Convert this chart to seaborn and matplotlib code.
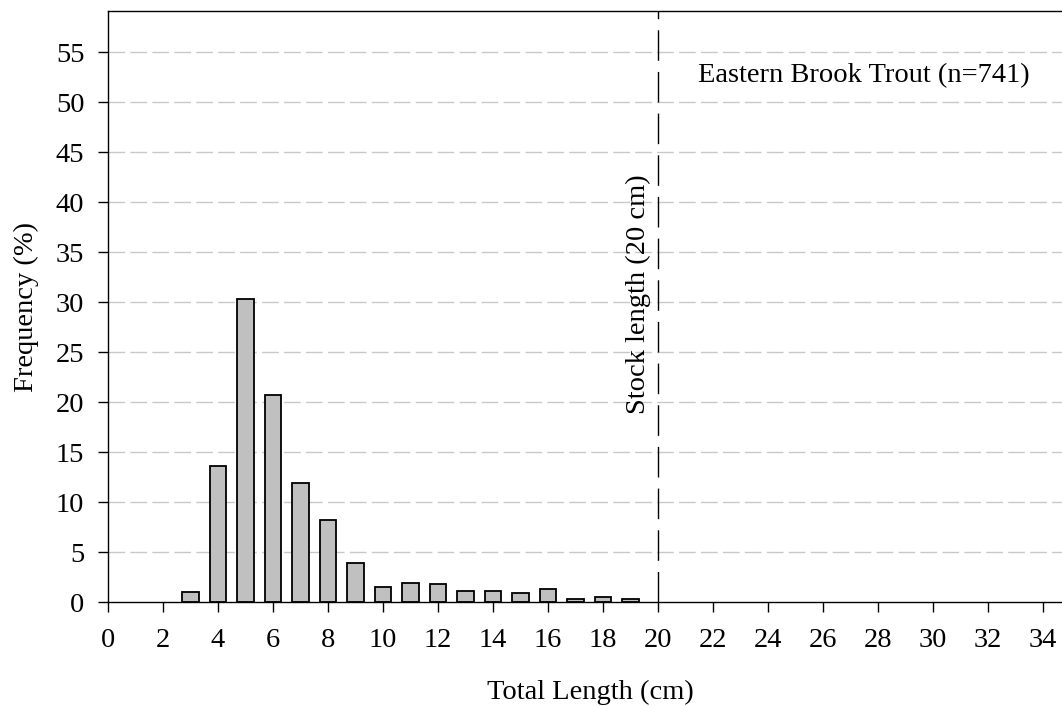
import matplotlib
matplotlib.use("Agg")
import matplotlib.pyplot as plt
import seaborn as sns
import numpy as np

lengths = [3, 4, 5, 6, 7, 8, 9, 10, 11, 12, 13, 14, 15, 16, 17, 18, 19]
freqs = [1.0, 13.6, 30.3, 20.7, 11.9, 8.2, 3.9, 1.55, 1.95, 1.85, 1.15, 1.15, 0.95, 1.35, 0.3, 0.5, 0.3]
xticks = list(range(0, 35, 2))
yticks = list(range(0, 60, 5))
stock_length = 20
title_text = "Eastern Brook Trout (n=741)"
stock_text = "Stock length (20 cm)"

sns.set_theme(style="white")
plt.rcParams['font.family'] = ['Liberation Serif', 'DejaVu Serif']
plt.rcParams['text.color'] = 'black'
plt.rcParams['axes.labelcolor'] = 'black'
plt.rcParams['xtick.color'] = 'black'
plt.rcParams['ytick.color'] = 'black'

FS = 20.5

fig = plt.figure(figsize=(10.62, 7.06), dpi=100)
# axes extends slightly past the right edge of the canvas (right spine off-canvas)
ax = fig.add_axes([108/1062, 1-602/706, (35*27.5)/1062, (602-11)/706])

for y in yticks[1:]:
    ax.axhline(y, color='#c8c8c8', lw=1.0, ls=(0, (12, 3.8)), zorder=0)

sns.barplot(x=lengths, y=freqs, native_scale=True, width=0.6, color='#c0c0c0',
            saturation=1, edgecolor='black', linewidth=1.3, ax=ax, zorder=2)

ax.axvline(stock_length, color='black', lw=1.0, ls=(0, (22, 8)), zorder=3)
ax.text(19.3, 30.8, stock_text, rotation=90, ha='center', va='center', fontsize=FS)
ax.text(27.5, 52.6, title_text, ha='center', va='center', fontsize=FS)

ax.set_xlim(0, 35)
ax.set_ylim(0, 59.1)
ax.set_xticks(xticks)
ax.set_yticks(yticks)
ax.set_xticklabels([str(v) for v in xticks], fontsize=FS)
ax.set_yticklabels([str(v) for v in yticks], fontsize=FS)
ax.tick_params(axis='both', direction='out', length=7, width=1.0, color='black',
               bottom=True, left=True)
ax.tick_params(axis='x', pad=12)
ax.tick_params(axis='y', pad=10)
for s in ax.spines.values():
    s.set_visible(True)
    s.set_color('black')
    s.set_linewidth(1.0)
ax.set_xlabel("Total Length (cm)", fontsize=FS, labelpad=20)
ax.xaxis.set_label_coords((590-108)/(35*27.5), -78/591)
ax.set_ylabel("Frequency (%)", fontsize=FS, labelpad=12)
ax.grid(False)

fig.savefig("out.png", dpi=100)
